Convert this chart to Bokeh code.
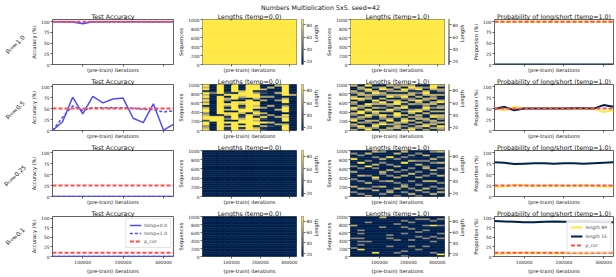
import math
import numpy as np
from bokeh.plotting import figure
from bokeh.models import (Range1d, FixedTicker, LinearColorMapper, Legend, LegendItem,
                          BasicTickFormatter, ColumnDataSource, CustomJSTickFormatter)
from bokeh.transform import transform
from bokeh.layouts import row, column
from bokeh.palettes import Cividis256
from bokeh.core.properties import value
from bokeh.embed import file_html
from bokeh.resources import INLINE

# ---------------- data ----------------
suptitle = "Numbers Multiplication 5x5, seed=42"
iterations = [25000, 50000, 75000, 100000, 125000, 150000, 175000,
              200000, 225000, 250000, 275000, 300000, 325000]
x_ticks = [100000, 200000, 300000]
pct_ticks = [0, 25, 50, 75, 100]
seq_ticks = [0, 200, 400, 600, 800, 1000]
len_ticks = [20, 40, 60, 80]
n_sequences = 1000
len_short = 15
len_long = 89

p_cor = [1.0, 0.5, 0.25, 0.1]
p_cor_text = ["=1.0", "=0.5", "=0.25", "=0.1"]

acc_temp0 = [
    [100, 100, 99, 95, 100, 100, 100, 100, 100, 100, 100, 100, 100],
    [0, 20, 76, 38, 78, 63, 72, 74, 28, 18, 61, 1, 14],
    [0, 0, 0, 0, 0, 0, 0, 0, 0, 0, 0, 0, 0],
    [0, 0, 0, 0, 0, 0, 0, 0, 0, 0, 0, 0, 0],
]
acc_temp1 = [
    [100, 100, 100, 97, 100, 100, 100, 100, 100, 100, 100, 100, 100],
    [0, 30, 56, 46, 52, 52, 52, 52, 51, 48, 48, 42, 45],
    [0, 0, 0, 0, 0, 0, 0, 0, 0, 0, 0, 0, 0],
    [0, 0, 0, 0, 0, 0, 0, 0, 0, 0, 0, 0, 0],
]
prob_long = [
    [100, 100, 100, 100, 100, 100, 100, 100, 100, 100, 100, 100, 100],
    [51, 46, 54, 50, 50, 50, 50, 50, 49, 49, 50, 42, 46],
    [22, 23, 26, 25, 24, 24, 25, 24, 24, 25, 24, 23, 22],
    [7, 8, 9, 10, 10, 9, 8, 9, 9, 8, 9, 10, 10],
]
prob_short = [
    [0, 0, 0, 0, 0, 0, 0, 0, 0, 0, 0, 0, 0],
    [49, 54, 46, 50, 50, 50, 50, 50, 51, 51, 50, 58, 54],
    [78, 77, 74, 75, 76, 76, 75, 76, 76, 75, 76, 77, 78],
    [93, 92, 91, 90, 90, 91, 92, 91, 91, 92, 91, 90, 90],
]

# heatmaps: one string per checkpoint, cells from sequence 0 upward,
# digit 0 = length 15 ... 9 = length 89
col_all_long = "99999 99999 99999 99999 99999"
col_all_short = "00000 00000 00000 00000 00000"
lengths_t0_p100 = [col_all_long] * 13
lengths_t1_p100 = [col_all_long] * 13
lengths_t0_p050 = [
    "97599 29975 99709 69597 90979",
    "00000 99900 00000 00000 50000",
    "99999 99909 99999 99990 99999",
    "20709 05079 07069 05709 20000",
    "99999 09999 09999 90999 09999",
    "70909 97207 99307 90279 97000",
    "99999 99990 99999 99099 99999",
    "97099 79069 70979 90799 60999",
    "20709 02907 00600 07060 20700",
    "00207 00060 00070 00060 00070",
    "00070 00700 07000 06000 70007",
    "99970 99790 99960 99709 99999",
    "00000 00000 00000 00007 00000",
]
lengths_t1_p050 = [
    "70570 97057 07905 70970 57007",
    "07906 05709 90570 06907 70570",
    "97005 70790 59079 00757 07909",
    "05970 70057 90707 59006 97050",
    "70097 05790 70507 90705 70970",
    "57070 97050 79057 07097 05707",
    "07757 00799 05709 97057 07075",
    "70507 97070 50970 70597 07907",
    "97050 70707 95007 07507 70597",
    "05707 07570 97005 79070 50970",
    "70970 57007 07957 05707 97050",
    "07075 70970 70507 70757 00799",
    "57907 05770 70750 97007 05707",
]
lengths_t0_p025 = [col_all_short] * 13
lengths_t1_p025 = [
    "00500 70005 00070 05000 90050",
    "05007 00050 07000 50090 00500",
    "70005 00700 05000 09005 00070",
    "00070 50005 90000 50700 05007",
    "05000 70050 00570 00050 70005",
    "00750 00070 05007 00500 09000",
    "50007 00500 70050 07000 50070",
    "00500 75000 07005 00090 05007",
    "07005 00050 00700 50007 00500",
    "50070 05000 70050 00705 00050",
    "00507 00070 05000 75005 00700",
    "07000 50070 00507 00050 70005",
    "00705 00500 07000 50070 05007",
]
lengths_t0_p010 = [col_all_short] * 13
lengths_t1_p010 = [
    "00000 50000 05000 00007 00000",
    "00009 00505 05005 05000 00000",
    "00000 00005 00000 00000 05000",
    "00900 00000 00000 00000 00000",
    "00000 00000 00000 00050 00007",
    "00000 05000 05050 00000 00000",
    "00500 00000 50000 00000 50000",
    "50050 00000 00005 00050 00500",
    "00000 05000 50000 00500 05000",
    "00005 00000 00500 50000 00050",
    "00000 05000 05000 05005 00050",
    "00500 00005 00500 00009 00500",
    "09000 00000 05005 00005 00050",
]
lengths_t0 = [lengths_t0_p100, lengths_t0_p050, lengths_t0_p025, lengths_t0_p010]
lengths_t1 = [lengths_t1_p100, lengths_t1_p050, lengths_t1_p025, lengths_t1_p010]

# ---------------- style ----------------
FONT = "DejaVu Sans"
TITLE_FS = "6.3px"
LABEL_FS = "5.1px"
TICK_FS = "4.4px"
LEG_FS = "4.5px"
SPINE = "#3a3a3a"
BLUE = "#4d4dff"
RED = "#ff4d4d"
YELLOW = Cividis256[-1]
NAVY = Cividis256[0]

# outer widths (sum 616) and minimum borders
TOTAL_W = 616
LABEL_W = 28
COL1 = dict(w=147, bl=24, br=2)
COL2 = dict(w=123, bl=23, br=2)
CB2 = dict(w=25, bl=5, br=17)
COL3 = dict(w=123, bl=22, br=2)
CB3 = dict(w=24, bl=3, br=18)
COL4 = dict(w=146, bl=21, br=3)
BT = 8
TITLE_H = 10
# (height, bottom border) per row; total with title = 277
ROW_DIMS = [(65, 10), (66, 10), (66, 10), (70, 15)]

mapper = LinearColorMapper(palette=Cividis256, low=len_short, high=len_long)
xfmt = BasicTickFormatter(use_scientific=False)
blank_fmt = CustomJSTickFormatter(code="return ''")
space_fmt = CustomJSTickFormatter(code="return ' '")


def make_fig(cfg, h, bb, x_range, y_range, title, **kw):
    p = figure(width=cfg["w"], height=h,
               min_border_left=cfg["bl"], min_border_right=cfg["br"],
               min_border_top=BT, min_border_bottom=bb,
               x_range=x_range, y_range=y_range, title=title,
               output_backend="svg", toolbar_location=None, **kw)
    p.grid.visible = False
    p.outline_line_color = SPINE
    p.outline_line_width = 0.8
    p.title.text_font = FONT
    p.title.text_font_size = TITLE_FS
    p.title.text_font_style = "normal"
    p.title.text_color = "#111111"
    p.title.align = "center"
    p.title.standoff = 0
    p.title.offset = 0
    return p


def style_axis(ax, ticks, show_labels, label, fmt=None):
    ax.ticker = FixedTicker(ticks=ticks)
    ax.axis_line_color = None
    ax.major_tick_line_color = SPINE
    ax.major_tick_line_width = 0.8
    ax.major_tick_out = 2
    ax.major_tick_in = 0
    ax.minor_tick_line_color = None
    ax.major_label_text_font = FONT
    ax.major_label_text_color = "#222222"
    if show_labels:
        if fmt is not None:
            ax.formatter = fmt
        ax.major_label_text_font_size = TICK_FS
        ax.major_label_standoff = 1
    else:
        ax.formatter = blank_fmt
        ax.major_label_text_font_size = "1px"
        ax.major_label_standoff = 0
    ax.axis_label = label
    ax.axis_label_text_font = FONT
    ax.axis_label_text_font_size = LABEL_FS
    ax.axis_label_text_font_style = "normal"
    ax.axis_label_text_color = "#111111"
    ax.axis_label_standoff = 1 if show_labels else 0


def style_legend(lg, label_h):
    lg.label_text_font = FONT
    lg.label_text_font_size = LEG_FS
    lg.glyph_width = 12
    lg.glyph_height = label_h
    lg.label_height = label_h
    lg.label_standoff = 3
    lg.spacing = 2
    lg.padding = 3
    lg.margin = 2
    lg.border_line_color = "#cccccc"
    lg.border_line_width = 0.6
    lg.background_fill_alpha = 0.85


W = {'p': 0.635, 'c': 0.550, 'o': 0.612, 'r': 0.411, '=': 0.838, '.': 0.318,
     '0': 0.636, '1': 0.636, '2': 0.636, '5': 0.636}


def text_w(s, fs):
    return sum(W[ch] for ch in s) * fs


def label_fig(h, bb, k):
    p = figure(width=LABEL_W, height=h, x_range=Range1d(0, LABEL_W), y_range=Range1d(0, h),
               min_border=0, x_axis_type=None, y_axis_type=None,
               output_backend="svg", toolbar_location=None)
    p.title = None
    p.outline_line_color = None
    fs_main, fs_sub = 6.0, 4.3
    ang = math.pi / 4
    w_p = text_w("p", fs_main)
    w_sub = text_w("cor", fs_sub)
    w_tail = text_w(p_cor_text[k], fs_main)
    L = w_p + w_sub + w_tail
    ux, uy = math.cos(ang), math.sin(ang)
    dx, dy = math.sin(ang), -math.cos(ang)
    fh = h - BT - bb
    cx, cy = 14, h - BT - fh / 2 - 6
    sx, sy = cx - ux * L / 2, cy - uy * L / 2
    common = dict(angle=ang, text_align="left", text_baseline="middle",
                  text_font=value(FONT), text_color="#111111")
    p.text(x=[sx], y=[sy], text=["p"], text_font_size=f"{fs_main}px", **common)
    p.text(x=[sx + ux * w_p + dx * 1.5], y=[sy + uy * w_p + dy * 1.5], text=["cor"],
           text_font_size=f"{fs_sub}px", **common)
    p.text(x=[sx + ux * (w_p + w_sub)], y=[sy + uy * (w_p + w_sub)], text=[p_cor_text[k]],
           text_font_size=f"{fs_main}px", **common)
    return p


def acc_fig(k, h, bb, last):
    p = make_fig(COL1, h, bb, Range1d(iterations[0], iterations[-1]), Range1d(0, 105),
                 "Test Accuracy")
    style_axis(p.xaxis[0], x_ticks, last, "(pre-train) iterations", xfmt)
    style_axis(p.yaxis[0], pct_ticks, True, "Accuracy (%)")
    r0 = p.line(iterations, acc_temp0[k], line_color=BLUE, line_width=1.5)
    r1 = p.line(iterations, acc_temp1[k], line_color=BLUE, line_width=1.5, line_dash="3 2")
    r2 = p.line(iterations, [p_cor[k] * 100] * len(iterations), line_color=RED,
                line_width=2, line_dash="4 2")
    if last:
        lg = Legend(items=[LegendItem(label="temp=0.0", renderers=[r0]),
                           LegendItem(label="temp=1.0", renderers=[r1]),
                           LegendItem(label="p_cor", renderers=[r2])],
                    location="top_right")
        style_legend(lg, 6)
        p.add_layout(lg)
    return p


def heat_source(cols):
    step = iterations[1] - iterations[0]
    d = dict(left=[], right=[], bottom=[], top=[], length=[])
    for it, col in zip(iterations, cols):
        cells = col.replace(" ", "")
        block = n_sequences / len(cells)
        for j, ch in enumerate(cells):
            d["left"].append(it - step)
            d["right"].append(it)
            d["bottom"].append(j * block)
            d["top"].append((j + 1) * block)
            d["length"].append(len_short + int(ch) / 9 * (len_long - len_short))
    return ColumnDataSource(d)


def heat_fig(cfg, cols, title, h, bb, last):
    step = iterations[1] - iterations[0]
    p = make_fig(cfg, h, bb, Range1d(iterations[0] - step, iterations[-1]),
                 Range1d(0, n_sequences), title)
    style_axis(p.xaxis[0], x_ticks, last, "(pre-train) iterations", xfmt)
    style_axis(p.yaxis[0], seq_ticks, True, "Sequences")
    src = heat_source(cols)
    p.quad(left="left", right="right", bottom="bottom", top="top", source=src,
           fill_color=transform("length", mapper), line_color=transform("length", mapper),
           line_width=0.5)
    return p


def cbar_fig(cfg, h, bb, last):
    # colour bar as its own narrow plot; its bottom axis mirrors the heatmap's
    # bottom axis (blank texts) so that both frames line up
    step = iterations[1] - iterations[0]
    p = make_fig(cfg, h, bb, Range1d(iterations[0] - step, iterations[-1]),
                 Range1d(len_short, len_long), " ", y_axis_location="right")
    style_axis(p.xaxis[0], x_ticks, last, " ", space_fmt)
    p.xaxis[0].major_tick_line_color = None
    style_axis(p.yaxis[0], len_ticks, True, "Length")
    try:
        # read the label bottom-to-top, as a colour bar label usually is
        p.yaxis[0].axis_label_orientation = math.pi / 2
    except (AttributeError, ValueError):
        pass
    grad = np.linspace(len_short, len_long, 256).reshape(256, 1)
    p.image(image=[grad], x=iterations[0] - step, y=len_short,
            dw=iterations[-1] - iterations[0] + step, dh=len_long - len_short,
            color_mapper=mapper)
    p.outline_line_width = 0.5
    return p


def prob_fig(k, h, bb, last):
    p = make_fig(COL4, h, bb, Range1d(iterations[0], iterations[-1]), Range1d(0, 105),
                 "Probability of long/short (temp=1.0)")
    style_axis(p.xaxis[0], x_ticks, last, "(pre-train) iterations", xfmt)
    style_axis(p.yaxis[0], pct_ticks, True, "Proportion (%)")
    r0 = p.line(iterations, prob_long[k], line_color=YELLOW, line_width=2)
    r1 = p.line(iterations, prob_short[k], line_color=NAVY, line_width=2)
    r2 = p.line(iterations, [p_cor[k] * 100] * len(iterations), line_color=RED,
                line_width=2, line_dash="4 2")
    if last:
        lg = Legend(items=[LegendItem(label=f"length {len_long}", renderers=[r0]),
                           LegendItem(label=f"length {len_short}", renderers=[r1]),
                           LegendItem(label="p_cor", renderers=[r2])],
                    location="right")
        style_legend(lg, 7)
        p.add_layout(lg)
    return p


# ---------------- layout ----------------
tf = figure(width=TOTAL_W, height=TITLE_H, x_range=Range1d(0, TOTAL_W),
            y_range=Range1d(0, TITLE_H), min_border=0, x_axis_type=None, y_axis_type=None,
            output_backend="svg", toolbar_location=None)
tf.title = None
tf.outline_line_color = None
tf.text(x=[320], y=[TITLE_H - 1], text=[suptitle], text_align="center", text_baseline="top",
        text_font=value(FONT), text_font_size=TITLE_FS, text_color="#111111")

rows = [tf]
for k in range(4):
    last = k == 3
    h, bb = ROW_DIMS[k]
    rows.append(row(
        label_fig(h, bb, k),
        acc_fig(k, h, bb, last),
        heat_fig(COL2, lengths_t0[k], "Lengths (temp=0.0)", h, bb, last),
        cbar_fig(CB2, h, bb, last),
        heat_fig(COL3, lengths_t1[k], "Lengths (temp=1.0)", h, bb, last),
        cbar_fig(CB3, h, bb, last),
        prob_fig(k, h, bb, last),
    ))

layout = column(*rows)
open("out.html", "w").write(file_html(layout, INLINE))
